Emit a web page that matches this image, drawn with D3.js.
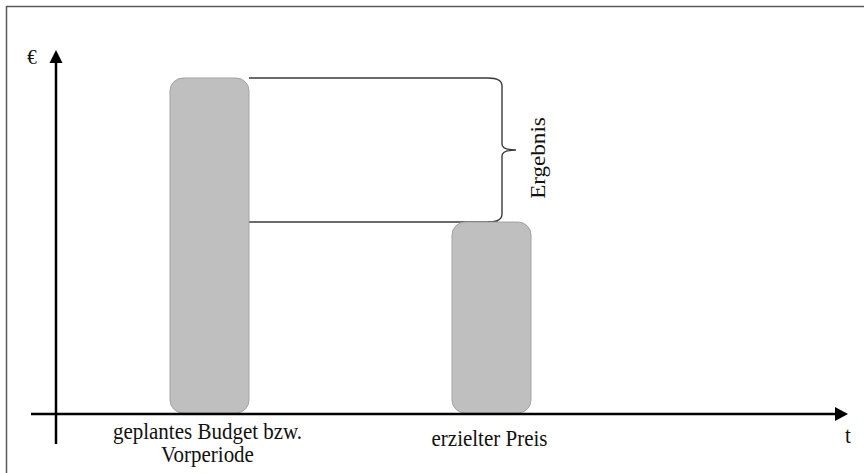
<!DOCTYPE html>
<html><head><meta charset="utf-8">
<script src="https://cdn.jsdelivr.net/npm/d3@7"></script>
<style>html,body{margin:0;padding:0;background:#fff}svg{display:block}
text{font-family:"Liberation Serif","Times New Roman","DejaVu Serif",serif}</style>
</head><body>
<script>
const categories = ["geplantes Budget bzw. Vorperiode", "erzielter Preis"];
const labelLines = [["geplantes Budget bzw.", "Vorperiode"], ["erzielter Preis"]];
const values = [100, 57];
const axisLabels = {y: "€", x: "t"};
const braceLabel = "Ergebnis";

const W = 864, H = 473;
const svg = d3.select("body").append("svg").attr("width", W).attr("height", H);
const stretch = 1.1;

// frame
svg.append("rect").attr("x", 6.5).attr("y", 6.5).attr("width", 900).attr("height", 500)
  .attr("fill", "none").attr("stroke", "#5a5a5a").attr("stroke-width", 1.5);

const x = d3.scalePoint().domain(categories).range([209.5, 491.5]);
const y = d3.scaleLinear().domain([0, 100]).range([413, 78]);
const barW = 79;

// connector lines + brace
const xR = x(categories[0]) + barW / 2;
const yTop = y(values[0]), yBot = y(values[1]);
const bx = 502, bMid = (yTop + yBot) / 2;
const g = svg.append("g").attr("fill", "none").attr("stroke", "#3a3a3a").attr("stroke-width", 1.4);
g.append("path").attr("d", `M${xR},${yBot} L${bx - 4},${yBot}`);
g.append("path").attr("d",
  `M${xR},${yTop} L${bx - 14},${yTop} Q${bx},${yTop} ${bx},${yTop + 8}` +
  ` L${bx},${bMid - 6} Q${bx},${bMid} ${bx + 14},${bMid}` +
  ` Q${bx},${bMid} ${bx},${bMid + 6} L${bx},${yBot - 8} Q${bx},${yBot} ${bx - 14},${yBot}`);

// bars
svg.selectAll("rect.bar").data(categories).enter().append("rect").attr("class", "bar")
  .attr("x", d => x(d) - barW / 2).attr("width", barW)
  .attr("y", (d, i) => y(values[i])).attr("height", (d, i) => y(0) - y(values[i]))
  .attr("rx", 13).attr("ry", 13)
  .attr("fill", "#bfbfbf").attr("stroke", "#a3a3a3").attr("stroke-width", 1);

// axes
const ax = svg.append("g");
ax.append("line").attr("x1", 31).attr("x2", 836).attr("y1", 414).attr("y2", 414)
  .attr("stroke", "#000").attr("stroke-width", 2.5);
ax.append("path").attr("d", "M835,407 L848,414 L835,421 Z").attr("fill", "#000");
ax.append("line").attr("x1", 56).attr("x2", 56).attr("y1", 444).attr("y2", 62)
  .attr("stroke", "#000").attr("stroke-width", 2.5);
ax.append("path").attr("d", "M49.5,63 L56,50 L62.5,63 Z").attr("fill", "#000");

function label(tx, ty, size, text, rot) {
  return svg.append("text")
    .attr("transform", rot ? `translate(${tx},${ty}) rotate(-90) scale(${stretch},1)`
                           : `translate(${tx},${ty}) scale(1,${stretch})`)
    .attr("text-anchor", "middle").attr("font-size", size).attr("fill", "#111").text(text);
}

label(32, 64, 19, axisLabels.y);
label(848, 443, 21, axisLabels.x);

// category labels
const baselines = [439, 446];
categories.forEach((c, i) =>
  labelLines[i].forEach((l, j) => label(x(c) - 2, baselines[i] + j * 23, 21, l)));

// brace label
label(545, bMid + 8, 21, braceLabel, true);
</script>
</body></html>
